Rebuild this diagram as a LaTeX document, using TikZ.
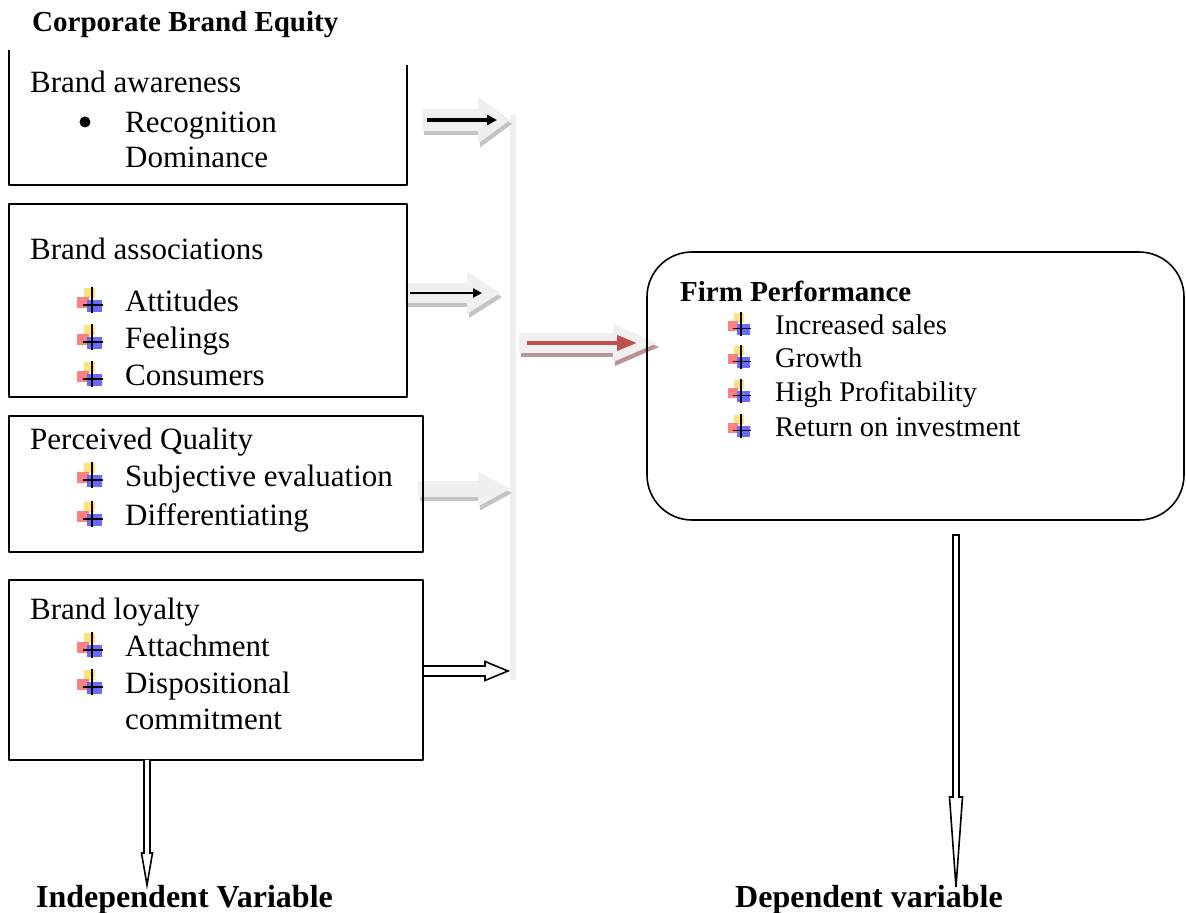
\documentclass[tikz,border=0pt]{standalone}
\usepackage{fontspec}
\setmainfont{Liberation Serif}
\usetikzlibrary{arrows.meta,calc}
\definecolor{bargray}{HTML}{EFEFEF}
\definecolor{bodygray}{HTML}{F0F0F0}
\definecolor{shadegray}{HTML}{C4C4C4}
\definecolor{accentred}{HTML}{C0504D}
\definecolor{shadered}{HTML}{BA9494}
\definecolor{flagyellow}{HTML}{FFE27A}
\definecolor{flagred}{HTML}{FF7272}
\definecolor{flagblue}{HTML}{5A5AFF}
\tikzset{
  box/.style={draw,line width=1.6bp,inner sep=0pt},
  boxline/.style={line width=1.6bp},
  txt/.style={anchor=base west,inner sep=0pt,font=\fontsize{31bp}{36bp}\selectfont},
  small/.style={anchor=base west,inner sep=0pt,font=\fontsize{28.5bp}{33bp}\selectfont},
  head/.style={anchor=base west,inner sep=0pt,font=\fontsize{29bp}{33bp}\selectfont\bfseries},
  caption/.style={anchor=base west,inner sep=0pt,font=\fontsize{32bp}{36bp}\selectfont\bfseries},
  hollow/.style={draw,fill=white,line width=1.6bp,line join=miter},
  flag/.pic={
    \fill[flagyellow] (-8bp,2bp) rectangle (3bp,12bp);
    \fill[flagred,opacity=.9] (-15bp,-8bp) rectangle (-3bp,3bp);
    \fill[flagblue,opacity=.9] (-5bp,-12bp) rectangle (10bp,0bp);
    \draw[line width=1.6bp] (0bp,13bp) -- (0bp,-13bp) (-9bp,-5bp) -- (11bp,-5bp);
  }
}
% shaded block arrow: from, to, body, head width, head length, shadow colour, body colour
\newcommand\shadearrow[7]{%
  \draw [line width=#3,draw=#6,-{Triangle[length=#5,width=#4,line width=0pt]},
    transform canvas={shift={(2bp,-4bp)}}] (#1) -- (#2);
  \draw [line width=#3,draw=#7,-{Triangle[length=#5,width=#4,line width=0pt]}] (#1) -- (#2);
}
\begin{document}
\begin{tikzpicture}[>=latex,line join=bevel,]
\useasboundingbox (0bp,0bp) rectangle (1186bp,913bp);
%% collecting bar and its inputs
\node (bar) at (513bp,515.5bp) [fill=bargray,minimum width=6bp,minimum height=565bp,inner sep=0pt] {};
\coordinate (aw_out) at (422bp,793bp);  \coordinate (aw_in) at (510bp,793bp);
\coordinate (as_out) at (405bp,620bp);  \coordinate (as_in) at (500bp,620bp);
\coordinate (pq_out) at (418bp,424bp);  \coordinate (pq_in) at (510bp,424bp);
\coordinate (lo_out) at (423bp,242bp);  \coordinate (lo_in) at (508bp,242bp);
\coordinate (fp_out) at (519bp,570bp);  \coordinate (fp_in) at (657bp,570bp);
\shadearrow{aw_out}{aw_in}{22bp}{47bp}{32bp}{shadegray}{bodygray}
\shadearrow{as_out}{as_in}{20bp}{42bp}{33bp}{shadegray}{bodygray}
\shadearrow{pq_out}{pq_in}{16bp}{35bp}{32bp}{shadegray}{bodygray}
\shadearrow{fp_out}{fp_in}{20bp}{38bp}{44bp}{shadered}{bodygray}
\draw [line width=3.2bp,-{Triangle[length=10bp,width=10bp]}] ([xshift=5bp]aw_out) -- ([xshift=-13bp]aw_in);
\draw [line width=2.6bp,-{Triangle[length=9bp,width=9bp]}] ([xshift=5bp]as_out) -- ([xshift=-18bp]as_in);
\draw [accentred,line width=4bp,-{Triangle[length=20bp,width=15bp]}] ([xshift=8bp]fp_out) -- ([xshift=-20bp]fp_in);
\draw [hollow] ($(lo_out)+(0,5bp)$) -- ($(lo_in)+(-23bp,5bp)$) -- ($(lo_in)+(-23bp,9.5bp)$) -- (lo_in)
  -- ($(lo_in)+(-23bp,-9.5bp)$) -- ($(lo_in)+(-23bp,-5bp)$) -- ($(lo_out)+(0,-5bp)$);
%% boxes
\node (awareness) at (208bp,788bp) [minimum width=398bp,minimum height=120bp,inner sep=0pt] {};
\draw [boxline] ([yshift=15bp]awareness.north west) -- (awareness.south west) -- (awareness.south east) -- (awareness.north east);
\node (associations) at (208bp,612.5bp) [box,minimum width=398bp,minimum height=193bp] {};
\node (quality) at (216bp,429bp) [box,minimum width=414bp,minimum height=136bp] {};
\node (loyalty) at (216bp,243bp) [box,minimum width=414bp,minimum height=180bp] {};
\node (performance) at (915.5bp,527bp) [box,rounded corners=45bp,minimum width=537bp,minimum height=268bp] {};
%% texts
\node (equity) at (32bp,881bp) [head] {Corporate Brand Equity};
\node (aw_t) at (30bp,820bp) [txt] {Brand awareness};
\fill (85bp,791bp) circle (5.5bp);
\node (aw_1) at (125bp,780bp) [txt] {Recognition};
\node (aw_2) at (125bp,745bp) [txt] {Dominance};
\node (as_t) at (30bp,653bp) [txt] {Brand associations};
\node (as_1) at (125bp,601bp) [txt] {Attitudes};
\node (as_2) at (125bp,564bp) [txt] {Feelings};
\node (as_3) at (125bp,527bp) [txt] {Consumers};
\node (pq_t) at (30bp,463bp) [txt] {Perceived Quality};
\node (pq_1) at (125bp,426bp) [txt] {Subjective evaluation};
\node (pq_2) at (125bp,387bp) [txt] {Differentiating};
\node (lo_t) at (30bp,293bp) [txt] {Brand loyalty};
\node (lo_1) at (125bp,256bp) [txt] {Attachment};
\node (lo_2) at (125bp,219bp) [txt] {Dispositional};
\node (lo_3) at (125bp,183bp) [txt] {commitment};
\node (fp_t) at (680bp,611bp) [head] {Firm Performance};
\node (fp_1) at (775bp,578bp) [small] {Increased sales};
\node (fp_2) at (775bp,545bp) [small] {Growth};
\node (fp_3) at (775bp,511bp) [small] {High Profitability};
\node (fp_4) at (775bp,476bp) [small] {Return on investment};
\foreach \y in {601,564,527,426,387,256,219}
  \pic at (92bp,\y bp+12bp) {flag};
\foreach \y in {578,545,511,476}
  \pic [scale=0.9] at (741bp,\y bp+11bp) {flag};
%% variable arrows
\node (indep) at (36bp,6bp) [caption] {Independent Variable};
\node (dep) at (735bp,6bp) [caption] {Dependent variable};
\coordinate (lo_down) at (147bp,153bp);  \coordinate (lo_tip) at (147bp,28bp);
\coordinate (fp_down) at (956bp,378bp);  \coordinate (fp_tip) at (956bp,26bp);
\draw [hollow] ($(lo_down)+(-3bp,0)$) -- ($(lo_tip)+(-3bp,32bp)$) -- ($(lo_tip)+(-5.5bp,32bp)$) -- (lo_tip)
  -- ($(lo_tip)+(5.5bp,32bp)$) -- ($(lo_tip)+(3bp,32bp)$) -- ($(lo_down)+(3bp,0)$);
\draw [hollow] ($(fp_down)+(-3bp,0)$) -- ($(fp_tip)+(-3bp,90bp)$) -- ($(fp_tip)+(-6.5bp,90bp)$) -- (fp_tip)
  -- ($(fp_tip)+(6.5bp,90bp)$) -- ($(fp_tip)+(3bp,90bp)$) -- ($(fp_down)+(3bp,0)$) -- cycle;
%
\end{tikzpicture}
\end{document}
